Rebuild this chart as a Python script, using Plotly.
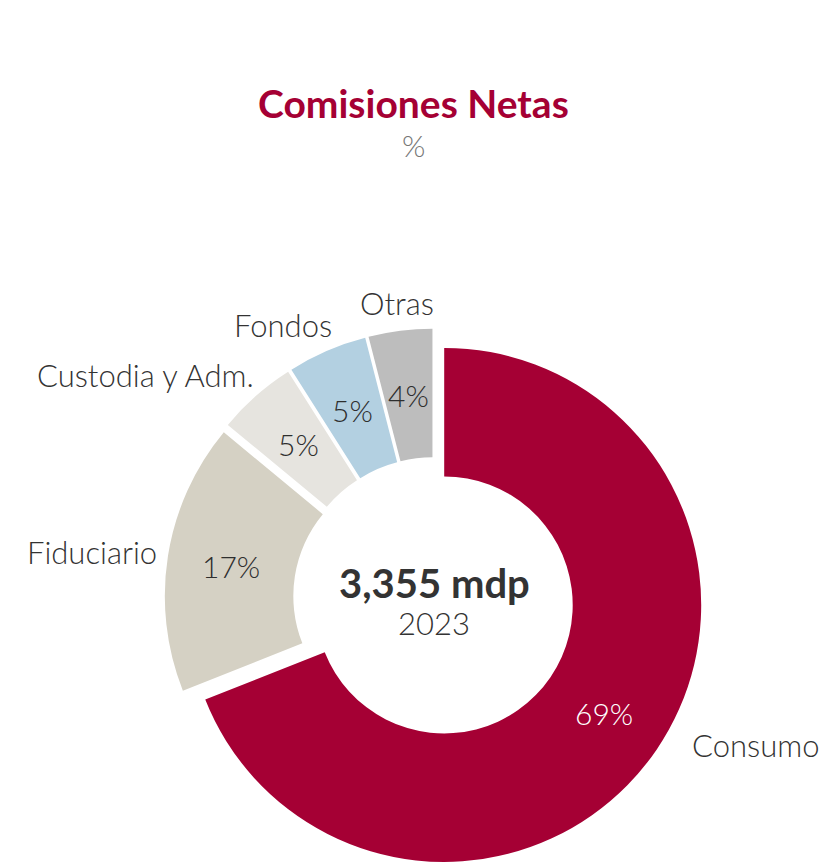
import math
import plotly.graph_objects as go

categories = ["Consumo", "Fiduciario", "Custodia y Adm.", "Fondos", "Otras"]
values = [69, 17, 5, 5, 4]
colors = ["#A50034", "#D5D1C4", "#E6E4DF", "#B3D0E1", "#BDBDBD"]
pct_text_colors = ["#FFFFFF", "#2E2E2E", "#2E2E2E", "#2E2E2E", "#2E2E2E"]
total_label = "3,355 mdp"
year_label = "2023"
title_text = "Comisiones Netas"
subtitle_text = "%"

FONT = "Lato"
TEXT = "#333333"
W, H = 835, 865
PULL = 0.048
HOLE = 0.5
R = 257                     # pie radius in px
cx, cy = 426, 590           # pie centre in px (figure coordinates)
half = R * (1 + PULL)
domain_x = [(cx - half) / W, (cx + half) / W]
domain_y = [(H - cy - half) / H, (H - cy + half) / H]


def px(x, y):
    return x / W, 1 - y / H


fig = go.Figure()
fig.add_trace(go.Pie(
    labels=categories, values=values, sort=False, direction="clockwise",
    rotation=0, hole=HOLE, pull=[PULL] * len(values),
    domain=dict(x=domain_x, y=domain_y), showlegend=False,
    marker=dict(colors=colors, line=dict(color="white", width=0)),
    textinfo="none", hoverinfo="label+percent",
))

total = sum(values)
cum = 0
R_LABEL = 297
R_PCT = R * PULL + R * (1 + HOLE) / 2
for lab, v, tc in zip(categories, values, pct_text_colors):
    mid = (cum + v / 2) / total
    cum += v
    th = 2 * math.pi * mid
    s, c = math.sin(th), math.cos(th)
    # percentage inside the ring
    xp, yp = px(cx + R_PCT * s, cy - R_PCT * c)
    fig.add_annotation(x=xp, y=yp, xref="paper", yref="paper",
                       text=f"{v / total * 100:.0f}%", showarrow=False,
                       xanchor="center", yanchor="middle",
                       font=dict(family=FONT, size=30, color=tc, weight=300))
    # category label outside
    if abs(s) < 0.2:
        xa, xs, ys = "center", 0, 0
    elif s < 0:
        xa, xs, ys = "right", 18, 0
    else:
        xa, xs, ys = "left", 10, 20
    xp, yp = px(cx + R_LABEL * s, cy - R_LABEL * c)
    fig.add_annotation(x=xp, y=yp, xref="paper", yref="paper", text=lab,
                       showarrow=False, xanchor=xa, yanchor="middle",
                       xshift=xs, yshift=ys,
                       font=dict(family=FONT, size=31, color=TEXT, weight=300))

x0, y0 = px(cx, 575)
fig.add_annotation(x=x0, y=y0, xref="paper", yref="paper", text=f"<b>{total_label}</b>",
                   showarrow=False, xanchor="center", yanchor="middle",
                   font=dict(family=FONT, size=40, color=TEXT))
x0, y0 = px(cx, 615)
fig.add_annotation(x=x0, y=y0, xref="paper", yref="paper", text=year_label,
                   showarrow=False, xanchor="center", yanchor="middle",
                   font=dict(family=FONT, size=31, color=TEXT, weight=300))
x0, y0 = px(405, 95)
fig.add_annotation(x=x0, y=y0, xref="paper", yref="paper", text=f"<b>{title_text}</b>",
                   showarrow=False, xanchor="center", yanchor="middle",
                   font=dict(family=FONT, size=39, color="#A50034"))
x0, y0 = px(405, 137)
fig.add_annotation(x=x0, y=y0, xref="paper", yref="paper", text=subtitle_text,
                   showarrow=False, xanchor="center", yanchor="middle",
                   font=dict(family=FONT, size=30, color="#777777", weight=300))

fig.update_layout(
    width=W, height=H, margin=dict(l=0, r=0, t=0, b=0),
    paper_bgcolor="white", plot_bgcolor="white",
)
fig.write_html("out.html")
